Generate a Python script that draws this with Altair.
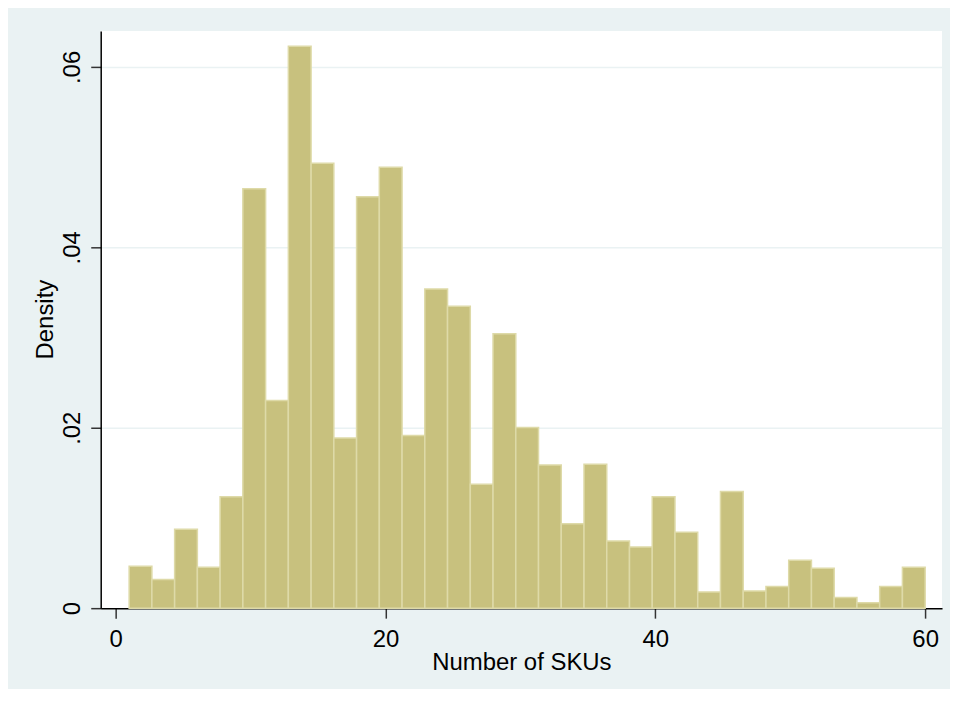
import altair as alt
import pandas as pd

# Histogram of Number of SKUs: 35 bins from 1 to 60
bin_start = 1.0
bin_end = 60.0
n_bins = 35
density = [0.00464, 0.00317, 0.00876, 0.00453, 0.01234, 0.04649, 0.02302,
           0.06229, 0.04932, 0.01886, 0.0456, 0.04888, 0.01915, 0.03539,
           0.03348, 0.01374, 0.03042, 0.02003, 0.01588, 0.00936, 0.01595,
           0.00744, 0.00678, 0.01234, 0.00843, 0.0018, 0.01293, 0.00191,
           0.0024, 0.0053, 0.00442, 0.00118, 0.00059, 0.0024, 0.00453]
x_ticks = [0, 20, 40, 60]
y_ticks = [0, 0.02, 0.04, 0.06]

w = (bin_end - bin_start) / n_bins
df = pd.DataFrame({
    "lo": [bin_start + i * w for i in range(n_bins)],
    "hi": [bin_start + (i + 1) * w for i in range(n_bins)],
    "density": density,
})

FONT = "Liberation Sans"

x = alt.X("lo:Q",
          scale=alt.Scale(domain=[-1.108, 61.25], nice=False, zero=False),
          axis=alt.Axis(values=x_ticks, title="Number of SKUs", grid=False,
                        format="d",
                        domainColor="#000000", domainWidth=1.5,
                        tickColor="#333333", tickSize=10, tickWidth=1.5,
                        labelFontSize=24, labelFont=FONT, labelColor="#000000",
                        labelBaseline="alphabetic", labelPadding=28,
                        labelFlush=False,
                        titleFontSize=24, titleFont=FONT, titleColor="#000000",
                        titleFontWeight="normal",
                        titleX=422, titleY=62, titleBaseline="alphabetic",
                        titleAlign="center"))
y = alt.Y("density:Q",
          scale=alt.Scale(domain=[0, 0.06398], nice=False),
          axis=alt.Axis(values=y_ticks, title="Density",
                        grid=True, gridColor="#EAF2F3", gridWidth=1.5,
                        labelExpr="datum.value == 0 ? '0' : slice(format(datum.value, '.2f'), 1)",
                        domainColor="#000000", domainWidth=1.5,
                        tickColor="#333333", tickSize=10, tickWidth=1.5,
                        labelFontSize=24, labelFont=FONT, labelColor="#000000",
                        labelAngle=-90, labelAlign="center",
                        labelBaseline="alphabetic", labelPadding=11,
                        labelFlush=False,
                        titleFontSize=24, titleFont=FONT, titleColor="#000000",
                        titleFontWeight="normal", titleAngle=-90,
                        titleX=-48, titleY=289, titleBaseline="alphabetic",
                        titleAlign="center"))

chart = alt.Chart(df).mark_rect(
    fill="#C8C17E", stroke="#DEDAA8", strokeWidth=1.5
).encode(
    x=x,
    x2="hi:Q",
    y=y,
    y2=alt.datum(0),
).properties(
    width=844, height=579,
    padding={"left": 93, "top": 22, "right": 8, "bottom": 80},
    autosize="none",
    background="#EAF2F3",
).configure_view(
    fill="#FFFFFF", stroke=None
)

chart.save("out.html", embed_options={"renderer": "svg", "actions": False})
